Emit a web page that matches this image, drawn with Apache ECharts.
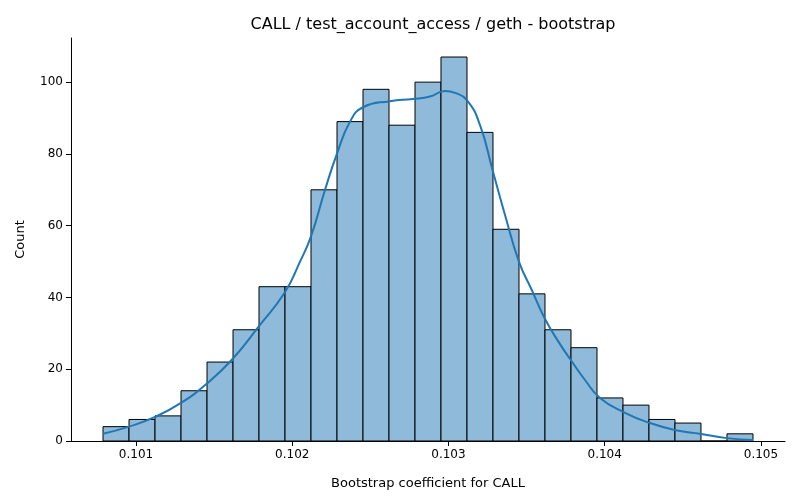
<!DOCTYPE html>
<html>
<head>
<meta charset="utf-8">
<script src="https://cdn.jsdelivr.net/npm/echarts@6/dist/echarts.min.js"></script>
<style>html,body{margin:0;padding:0;background:#fff}#main{width:800px;height:500px}</style>
</head>
<body>
<div id="main"></div>
<script>
// histogram bins
var binStart = 0.100789;
var binWidth = 0.0001664;
var counts = [4, 6, 7, 14, 22, 31, 43, 43, 70, 89, 98, 88, 100, 107, 86, 59, 41, 31, 26, 12, 10, 6, 5, 0, 2];

// kde curve
var kdeX = [0.100789, 0.100955, 0.101122, 0.101288, 0.101454, 0.101621, 0.101787, 0.101954, 0.102050, 0.102120,
            0.102210, 0.102286, 0.102370, 0.102453, 0.102626, 0.102773, 0.102882, 0.102978, 0.103042, 0.103118,
            0.103202, 0.103285, 0.103362, 0.103451, 0.103534, 0.103618, 0.103714, 0.103784, 0.103874, 0.103970,
            0.104123, 0.104290, 0.104456, 0.104610, 0.104782, 0.104949];
var kdeY = [2, 4, 6.7, 10.6, 16, 23, 32, 41.5, 50, 57,
            70, 80, 89, 93, 94.7, 95.3, 96, 97.5, 97, 95,
            88, 75, 63, 50, 42, 34, 27, 22.5, 17, 12,
            8, 5, 3, 2, 0.8, 0.3];

var meanValue = 0.102773;
var xTicks = [0.101, 0.102, 0.103, 0.104, 0.105];

var barData = counts.map(function (c, i) {
    return [binStart + i * binWidth, binStart + (i + 1) * binWidth, c];
});
var kdeData = kdeX.map(function (x, i) { return [x, kdeY[i]]; });

var chart = echarts.init(document.getElementById('main'));
var font = 'DejaVu Sans';

chart.setOption({
    animation: false,
    backgroundColor: '#fff',
    title: {
        text: 'CALL / test_account_access / geth - bootstrap',
        left: 428, top: 12, textAlign: 'center',
        textStyle: { fontFamily: font, fontSize: 16, fontWeight: 'normal', color: '#000' }
    },
    grid: { left: 71, right: 15, top: 38, bottom: 59 },
    xAxis: {
        type: 'value',
        min: 0.100584, max: 0.105154,
        name: 'Bootstrap coefficient for CALL',
        nameLocation: 'middle', nameGap: 36,
        nameTextStyle: { fontFamily: font, fontSize: 13, color: '#000' },
        axisLine: { lineStyle: { color: '#000' } },
        axisTick: { customValues: xTicks, length: 5, lineStyle: { color: '#000' } },
        axisLabel: { customValues: xTicks, fontFamily: font, fontSize: 12, color: '#000',
            formatter: function (v) { return v.toFixed(3); } },
        splitLine: { show: false }
    },
    yAxis: {
        type: 'value',
        min: 0, max: 112.3, interval: 20,
        name: 'Count', nameLocation: 'middle', nameGap: 44,
        nameTextStyle: { fontFamily: font, fontSize: 13, color: '#000' },
        axisLine: { show: true, lineStyle: { color: '#000' } },
        axisTick: { show: true, length: 5, lineStyle: { color: '#000' } },
        axisLabel: { fontFamily: font, fontSize: 12, color: '#000',
            showMaxLabel: false },
        splitLine: { show: false }
    },
    series: [
        {
            type: 'custom',
            data: barData,
            renderItem: function (params, api) {
                var p0 = api.coord([api.value(0), 0]);
                var p1 = api.coord([api.value(1), api.value(2)]);
                return {
                    type: 'rect',
                    shape: { x: p0[0], y: p1[1], width: p1[0] - p0[0], height: p0[1] - p1[1] },
                    style: { fill: '#8fbad9', stroke: '#000', lineWidth: 1 }
                };
            },
            encode: { x: [0, 1], y: 2 }
        },
        {
            type: 'line',
            data: kdeData,
            smooth: true,
            showSymbol: false,
            lineStyle: { color: '#1f77b4', width: 2 },
            markLine: {
                symbol: 'none', silent: true,
                label: { show: false },
                lineStyle: { color: '#d62728', type: [4, 2], width: 1 },
                data: [{ xAxis: meanValue }]
            }
        }
    ]
});
</script>
</body>
</html>
